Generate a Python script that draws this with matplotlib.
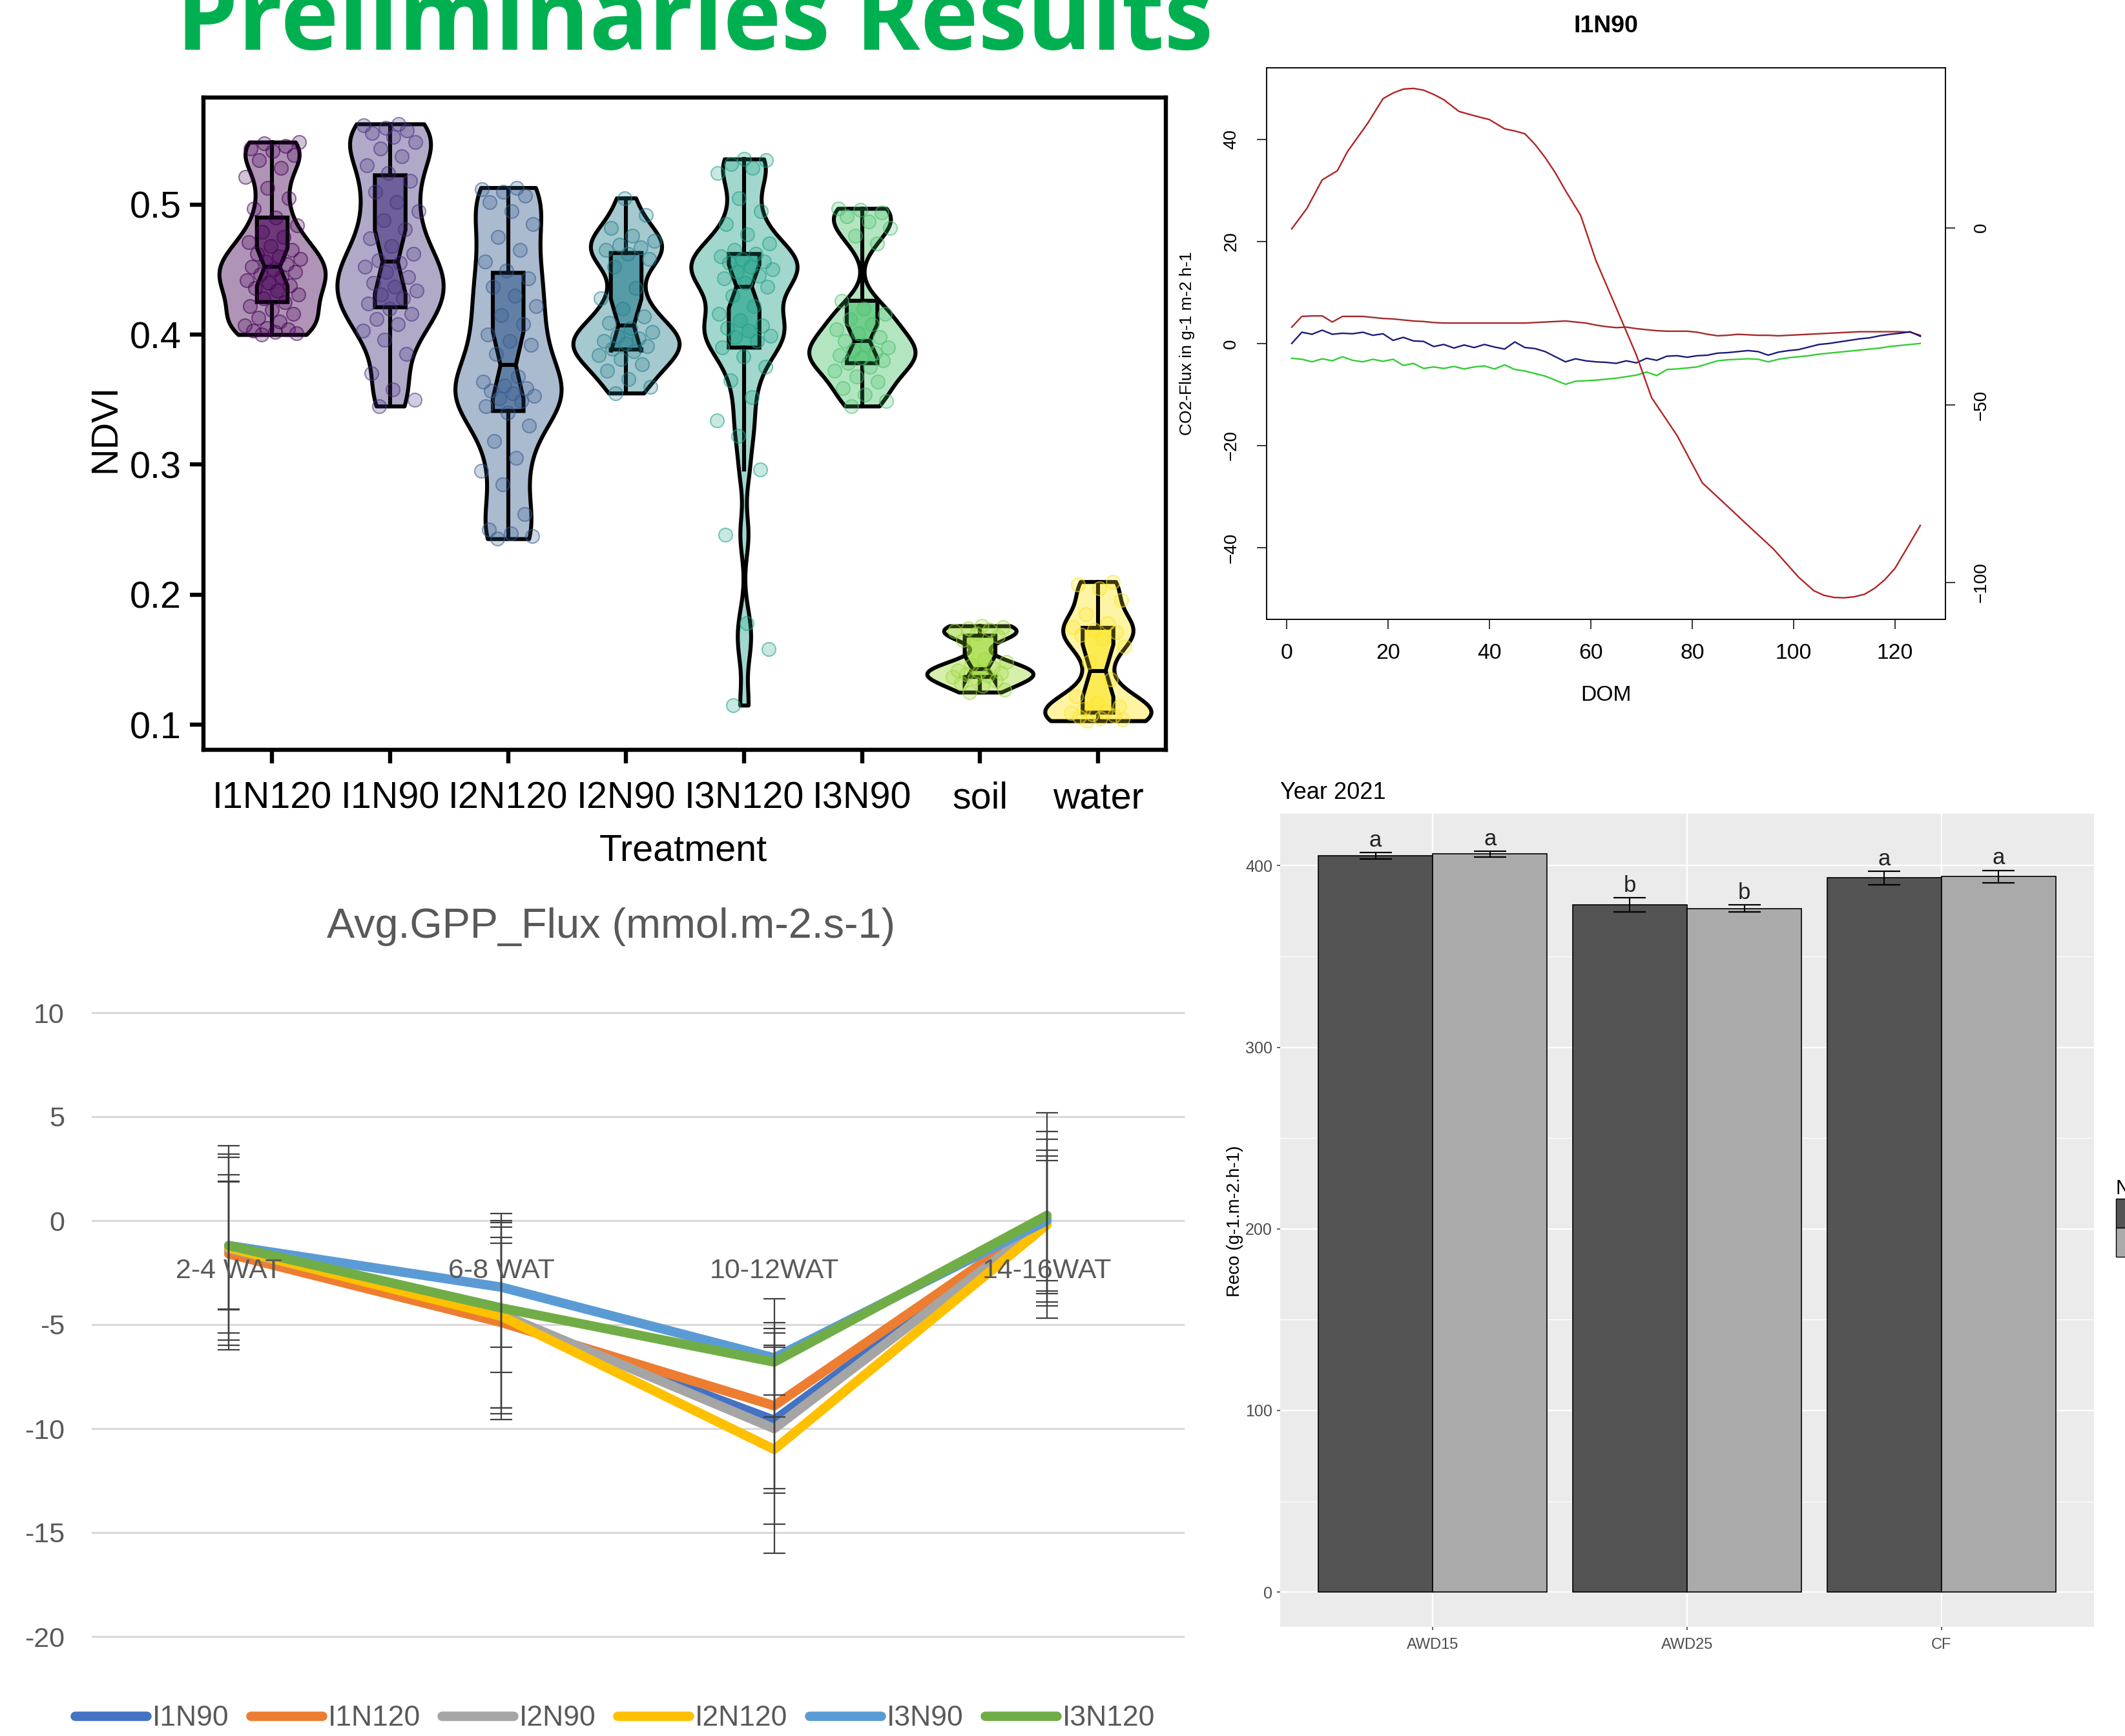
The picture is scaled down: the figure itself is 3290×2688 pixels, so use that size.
import numpy as np
import matplotlib
matplotlib.use("Agg")
import matplotlib.pyplot as plt
from matplotlib import font_manager as fm
from matplotlib.colors import to_rgba
from matplotlib.patches import Patch
from matplotlib.transforms import offset_copy

# ======================= DATA =======================
title_text = "Preliminaries Results"

# ---- Panel A: NDVI violins ----
treatments = ['I1N120', 'I1N90', 'I2N120', 'I2N90', 'I3N120', 'I3N90', 'soil', 'water']
ndvi_I1N120 = [0.400, 0.401, 0.402, 0.403, 0.404, 0.405, 0.407, 0.410, 0.413, 0.416, 0.419, 0.422, 0.425,
               0.428, 0.431, 0.434, 0.436, 0.438, 0.440, 0.442, 0.444, 0.446, 0.448, 0.450, 0.452,
               0.454, 0.456, 0.458, 0.460, 0.462, 0.465, 0.468, 0.471, 0.475, 0.479, 0.484, 0.490,
               0.497, 0.505, 0.513, 0.521, 0.528, 0.534, 0.538, 0.541, 0.543, 0.545, 0.547, 0.548]
ndvi_I1N90 = [0.345, 0.350, 0.358, 0.370, 0.385, 0.396, 0.403, 0.408, 0.412, 0.416, 0.420, 0.424,
              0.428, 0.431, 0.434, 0.437, 0.440, 0.444, 0.448, 0.452, 0.455, 0.457,
              0.462, 0.468, 0.474, 0.481, 0.488, 0.495, 0.502, 0.510, 0.518, 0.524,
              0.530, 0.537, 0.543, 0.548, 0.552, 0.555, 0.557, 0.559, 0.561, 0.562]
ndvi_I2N120 = [0.243, 0.245, 0.247, 0.250, 0.262, 0.285, 0.295, 0.305, 0.318, 0.330, 0.340,
               0.345, 0.349, 0.351, 0.353, 0.355, 0.357, 0.359, 0.361, 0.364, 0.368, 0.385, 0.392,
               0.395, 0.400, 0.408, 0.415, 0.422, 0.430, 0.437, 0.443, 0.449, 0.456, 0.465, 0.475,
               0.485, 0.495, 0.502, 0.507, 0.510, 0.512, 0.513]
ndvi_I2N90 = [0.355, 0.360, 0.366, 0.372, 0.377, 0.381, 0.384, 0.387, 0.389, 0.391, 0.393, 0.395,
              0.397, 0.399, 0.402, 0.405, 0.409, 0.414, 0.420, 0.428, 0.436, 0.452, 0.458, 0.462,
              0.465, 0.467, 0.469, 0.472, 0.476, 0.482, 0.492, 0.505]
ndvi_I3N120 = [0.115, 0.158, 0.178, 0.246, 0.296, 0.322, 0.334, 0.352, 0.365, 0.375, 0.383,
               0.390, 0.395, 0.398, 0.399, 0.403, 0.405, 0.407, 0.411, 0.416, 0.422, 0.430,
               0.437, 0.440, 0.443, 0.445, 0.448, 0.450, 0.452, 0.455, 0.456, 0.458, 0.460,
               0.462, 0.465, 0.470, 0.477, 0.485, 0.495, 0.505, 0.524, 0.528, 0.531, 0.534, 0.535]
ndvi_I3N90 = [0.345, 0.349, 0.354, 0.359, 0.364, 0.368, 0.372, 0.375, 0.378, 0.380, 0.382, 0.384,
              0.386, 0.388, 0.390, 0.392, 0.395, 0.398, 0.401, 0.404, 0.408, 0.412, 0.416, 0.420,
              0.426, 0.470, 0.476, 0.482, 0.487, 0.491, 0.494, 0.496, 0.497]
ndvi_soil = [0.125, 0.127, 0.130, 0.132, 0.134, 0.136, 0.137, 0.138, 0.139, 0.140, 0.141, 0.142,
             0.144, 0.146, 0.148, 0.150, 0.165, 0.168, 0.170, 0.172, 0.173, 0.174, 0.175, 0.176]
ndvi_water = [0.103, 0.104, 0.105, 0.106, 0.107, 0.108, 0.109, 0.110, 0.112, 0.114, 0.117, 0.122,
              0.135, 0.148, 0.160, 0.166, 0.169, 0.171, 0.173, 0.175, 0.178, 0.185, 0.196, 0.205,
              0.208, 0.210]
violin_colors = ['#440154', '#46337E', '#365C8D', '#277F8E', '#1FA187', '#4AC16D', '#9FDA3A', '#FDE725']

# ---- Panel B: CO2 flux, I1N90 ----
dom_small = [1, 3, 5, 7, 9, 11, 13, 15, 17, 19, 21, 23, 25, 27, 29, 31, 33, 35, 37, 39, 41, 43, 45,
             47, 49, 51, 53, 55, 57, 59, 61, 63, 65, 67, 69, 71, 73, 75, 77, 79, 81, 83, 85, 87, 89,
             91, 93, 95, 97, 99, 101, 103, 105, 107, 109, 111, 113, 115, 117, 119, 121, 123, 125]
flux_red = [3.2, 5.3, 5.4, 5.4, 4.2, 5.3, 5.3, 5.3, 5.1, 4.9, 4.8, 4.6, 4.4, 4.3, 4.1, 4.0, 4.0, 4.0,
            4.0, 4.0, 4.0, 4.0, 4.0, 4.0, 4.1, 4.2, 4.3, 4.4, 4.2, 4.0, 3.6, 3.3, 3.1, 3.2, 2.9, 2.7,
            2.5, 2.4, 2.4, 2.4, 2.2, 1.8, 1.5, 1.6, 1.8, 1.7, 1.6, 1.6, 1.5, 1.6, 1.7, 1.8, 1.9, 2.0,
            2.1, 2.2, 2.3, 2.3, 2.3, 2.3, 2.3, 2.2, 1.6]
flux_blue = [0.0, 2.2, 1.8, 2.6, 1.8, 2.0, 1.9, 2.2, 1.6, 1.9, 0.6, 1.2, 0.5, 0.4, -0.6, -0.2, -0.9,
             -0.3, -0.8, -0.2, -0.7, -1.1, 0.3, -0.8, -1.0, -1.6, -2.6, -3.6, -3.0, -3.4, -3.6, -3.7,
             -3.9, -3.4, -3.8, -2.9, -3.3, -2.5, -2.4, -2.7, -2.4, -2.3, -1.9, -1.8, -1.6, -1.4, -1.6,
             -2.3, -1.7, -1.4, -1.2, -0.7, -0.2, 0.0, 0.3, 0.6, 0.9, 1.1, 1.5, 1.8, 2.0, 2.3, 1.4]
flux_green = [-2.9, -3.1, -3.6, -3.0, -3.4, -2.6, -3.3, -3.6, -3.1, -3.5, -3.1, -4.3, -3.9, -4.9,
              -4.6, -4.9, -4.5, -5.0, -4.6, -4.4, -5.0, -4.2, -5.1, -5.4, -5.9, -6.4, -7.2, -8.0,
              -7.4, -7.3, -7.2, -7.0, -6.8, -6.5, -6.2, -5.6, -6.3, -5.1, -5.0, -4.8, -4.6, -4.0,
              -3.4, -3.2, -3.1, -3.0, -3.1, -3.6, -3.1, -2.8, -2.6, -2.4, -2.1, -1.9, -1.7, -1.5,
              -1.3, -1.1, -0.9, -0.6, -0.4, -0.2, 0.0]
dom_cum = [1, 4, 7, 10, 12, 14, 16, 19, 21, 23, 25, 27, 29, 31, 34, 37, 40, 43, 45, 47, 49, 51, 53,
           55, 58, 61, 65, 69, 72, 77, 82, 86, 91, 96, 101, 104, 106, 108, 110, 112, 114, 116, 118,
           120, 122, 125]
flux_cum = [-0.3, 5.5, 13.5, 16.1, 21.5, 25.5, 29.5, 36.4, 38.0, 39.1, 39.3, 38.8, 37.6, 36.1, 32.8,
            31.6, 30.5, 27.9, 27.3, 26.5, 23.5, 19.8, 15.5, 10.5, 3.5, -9.2, -22.5, -35.9, -47.9,
            -58.5, -71.9, -77.2, -83.9, -90.5, -98.5, -102.3, -103.6, -104.2, -104.3, -104.0, -103.3,
            -101.6, -99.2, -96.0, -91.2, -83.9]

# ---- Panel C: Avg GPP flux ----
gpp_weeks = ['2-4 WAT', '6-8 WAT', '10-12WAT', '14-16WAT']
gpp_series = ['I1N90', 'I1N120', 'I2N90', 'I2N120', 'I3N90', 'I3N120']
gpp_I1N90 = [-1.4, -4.7, -9.6, 0.0]
gpp_I1N120 = [-1.6, -4.9, -8.9, 0.1]
gpp_I2N90 = [-1.35, -4.5, -10.0, 0.0]
gpp_I2N120 = [-1.3, -4.6, -11.0, -0.2]
gpp_I3N90 = [-1.2, -3.2, -6.6, 0.0]
gpp_I3N120 = [-1.2, -4.2, -6.8, 0.25]
err_I1N90 = [4.6, 4.6, 3.5, 3.9]
err_I1N120 = [3.8, 4.1, 4.0, 4.2]
err_I2N90 = [4.4, 4.5, 4.6, 3.4]
err_I2N120 = [4.9, 4.95, 5.0, 3.3]
err_I3N90 = [3.05, 2.9, 2.85, 2.9]
err_I3N120 = [3.1, 3.1, 1.6, 4.95]
gpp_colors = ['#4472C4', '#ED7D31', '#A5A5A5', '#FFC000', '#5B9BD5', '#70AD47']

# ---- Panel D: Reco, Year 2021 ----
water_mgmt = ['AWD15', 'AWD25', 'CF']
n_levels = ['N120', 'N90']
reco_dark = [405.4, 378.5, 393.3]
se_dark = [1.75, 3.85, 3.7]
reco_light = [406.4, 376.5, 394.0]
se_light = [1.7, 2.0, 3.5]
letters_dark = ['a', 'b', 'a']
letters_light = ['a', 'b', 'a']

# ======================= STYLE / LAYOUT =======================
W, H, DPI = 3291, 2688, 100
_names = {f.name for f in fm.fontManager.ttflist}
HAS_NARROW = 'Liberation Sans Narrow' in _names


def nfont(size, weight='normal', factor=0.88):
    if HAS_NARROW:
        return dict(fontfamily=['Liberation Sans Narrow', 'DejaVu Sans'], fontsize=size, fontweight=weight)
    return dict(fontfamily=['Liberation Sans', 'DejaVu Sans'], fontsize=size * factor, fontweight=weight)


def rfont(size, weight='normal'):
    return dict(fontfamily=['Liberation Sans', 'DejaVu Sans'], fontsize=size, fontweight=weight)


plt.rcParams['font.family'] = ['Liberation Sans', 'DejaVu Sans']
fig = plt.figure(figsize=(W / DPI, H / DPI), dpi=DPI, facecolor='white')


def rect(l, t, r, b):
    return [l / W, 1 - b / H, (r - l) / W, (b - t) / H]


def fit_width(txt, target_px):
    r = fig.canvas.get_renderer()
    bb = txt.get_window_extent(r)
    txt.set_fontsize(txt.get_fontsize() * target_px / bb.width)


# ---- Title ----
t = fig.text(273 / W, 1 - 77 / H, title_text, color='#00B050', ha='left', va='baseline',
             fontfamily=['Open Sans', 'DejaVu Sans'], fontweight='bold', fontsize=100)
fit_width(t, 1606)

# ---- Panel A ----
ax1 = fig.add_axes(rect(315, 151, 1805, 1161))
groups = [ndvi_I1N120, ndvi_I1N90, ndvi_I2N120, ndvi_I2N90, ndvi_I3N120, ndvi_I3N90, ndvi_soil, ndvi_water]
pos = np.arange(1, len(treatments) + 1)


def nrd0(kde):
    d = np.ravel(kde.dataset)
    sd = np.std(d, ddof=1)
    q75, q25 = np.percentile(d, [75, 25])
    lo = min(sd, (q75 - q25) / 1.34)
    if lo <= 0:
        lo = sd
    return 0.72 * 0.9 * lo * len(d) ** -0.2 / sd


vp = ax1.violinplot(groups, positions=pos, widths=0.9, showextrema=False, bw_method=nrd0, points=500)
for body, c in zip(vp['bodies'], violin_colors):
    body.set_alpha(None)
    body.set_facecolor(to_rgba(c, 0.42))
    body.set_edgecolor('black')
    body.set_linewidth(4.4)
    body.set_zorder(2)

bp = ax1.boxplot(groups, positions=pos, widths=0.26, notch=True, patch_artist=True, whis=1.5,
                 showfliers=False, showcaps=False, manage_ticks=False,
                 medianprops=dict(color='black', linewidth=4.4),
                 whiskerprops=dict(color='black', linewidth=4.4),
                 boxprops=dict(edgecolor='black', linewidth=4.4))
for patch, c in zip(bp['boxes'], violin_colors):
    patch.set_facecolor(to_rgba(c, 0.62))
    patch.set_zorder(3)
for ln in bp['whiskers'] + bp['medians']:
    ln.set_zorder(3)

for i, (g, c) in enumerate(zip(groups, violin_colors)):
    g = np.asarray(g)
    off = ((np.arange(len(g)) * 0.6180339887 + 0.31) % 1.0 - 0.5) * 0.48
    ax1.scatter(pos[i] + off, g, s=230, facecolor=to_rgba(c, 0.24), edgecolor=to_rgba(c, 0.55),
                linewidth=1.5, zorder=4)

ax1.set_xlim(0.417, 8.575)
ax1.set_ylim(0.0807, 0.5823)
ax1.set_xticks(pos)
ax1.set_xticklabels(treatments)
ax1.set_yticks([0.1, 0.2, 0.3, 0.4, 0.5])
ax1.set_yticklabels(['0.1', '0.2', '0.3', '0.4', '0.5'])
for s in ax1.spines.values():
    s.set_linewidth(4.6)
ax1.tick_params(axis='both', direction='out', length=15, width=4.6)
ax1.tick_params(axis='x', pad=20)
ax1.tick_params(axis='y', pad=10)
for tl in ax1.get_xticklabels() + ax1.get_yticklabels():
    tl.set(**nfont(47, factor=0.88))
ax1.text(0.4987, -0.155, 'Treatment', transform=ax1.transAxes, ha='center', va='center', **nfont(47, factor=0.88))
ax1.text(-0.102, 0.493, 'NDVI', transform=ax1.transAxes, ha='center', va='center', rotation=90,
         **nfont(47, factor=0.88))

# ---- Panel B ----
ax2 = fig.add_axes(rect(1961, 105, 3012, 958.6))
ax2.plot(dom_small, flux_red, color='#A52A2A', lw=1.7)
ax2.plot(dom_small, flux_blue, color='#1B1B7A', lw=1.7)
ax2.plot(dom_small, flux_green, color='#33CC33', lw=1.7)
ax2.set_xlim(-3.96, 129.96)
ax2.set_ylim(-54, 54)
ax2r = ax2.twinx()
ax2r.plot(dom_cum, flux_cum, color='#B22222', lw=1.7)
ax2r.set_ylim(-110.3, 45.1)
ax2.set_xticks([0, 20, 40, 60, 80, 100, 120])
ax2.set_yticks([-40, -20, 0, 20, 40])
ax2r.set_yticks([-100, -50, 0])
for a in (ax2, ax2r):
    for s in a.spines.values():
        s.set_linewidth(1.1)
ax2.tick_params(axis='both', direction='out', length=11, width=1.1)
ax2r.tick_params(axis='y', direction='out', length=11, width=1.1, pad=20)
ax2.tick_params(axis='x', pad=16)
ax2.tick_params(axis='y', pad=19)
for tl in ax2.get_xticklabels():
    tl.set(**nfont(26, factor=0.93))
for tl in ax2.get_yticklabels():
    tl.set(rotation=90, va='center', ha='right', **rfont(20))
for tl in ax2r.get_yticklabels():
    tl.set(rotation=90, va='center', ha='left', **rfont(20))
ax2.text(0.5, 1.076, 'I1N90', transform=ax2.transAxes, ha='center', va='center', **nfont(29, 'bold', factor=0.93))
ax2.text(0.5, -0.1387, 'DOM', transform=ax2.transAxes, ha='center', va='center', **nfont(26, factor=0.93))
ax2.text(-0.117, 0.5, 'CO2-Flux in g-1 m-2 h-1', transform=ax2.transAxes, ha='center', va='center',
         rotation=90, **rfont(19))

# ---- Panel C ----
ax3 = fig.add_axes(rect(143, 1568, 1832, 2534))
xc = np.arange(len(gpp_weeks))
gvals = [gpp_I1N90, gpp_I1N120, gpp_I2N90, gpp_I2N120, gpp_I3N90, gpp_I3N120]
gerrs = [err_I1N90, err_I1N120, err_I2N90, err_I2N120, err_I3N90, err_I3N120]
handles = []
for name, v, c in zip(gpp_series, gvals, gpp_colors):
    ln, = ax3.plot(xc, v, color=c, lw=10.5, solid_capstyle='round', solid_joinstyle='round', zorder=3, label=name)
    handles.append(ln)
for v, e in zip(gvals, gerrs):
    ax3.errorbar(xc, v, yerr=e, fmt='none', ecolor='#404040', elinewidth=1.6, capsize=12, capthick=1.6, zorder=4)
ax3.set_xlim(-0.5, 3.5)
ax3.set_ylim(-20, 10)
ax3.set_yticks([-20, -15, -10, -5, 0, 5, 10])
ax3.set_yticklabels(['-20', '-15', '-10', '-5', '0', '5', '10'])
ax3.set_xticks(xc)
ax3.set_xticklabels([])
ax3.grid(axis='y', color='#D9D9D9', lw=2.2)
for gl in ax3.get_ygridlines():
    gl.set_clip_on(False)
ax3.set_axisbelow(True)
for s in ax3.spines.values():
    s.set_visible(False)
ax3.tick_params(axis='both', length=0, colors='#595959')
ax3.tick_params(axis='y', pad=31)
for tl in ax3.get_yticklabels():
    tl.set(color='#595959', **rfont(31))
lab_tr = offset_copy(ax3.transData, fig=fig, x=0, y=-58, units='dots')
for xi, lab in zip(xc, gpp_weeks):
    ax3.text(xi, 0, lab, transform=lab_tr, ha='center', va='top', color='#595959', zorder=6, **rfont(31))
t3 = ax3.text(0.4754, 1.1377, 'Avg.GPP_Flux (mmol.m-2.s-1)', transform=ax3.transAxes, ha='center',
              va='center', color='#595959', **rfont(47))
fit_width(t3, 879)
fig.legend(handles=handles, labels=gpp_series, ncol=6, loc='center', bbox_to_anchor=(952 / W, 1 - 2661 / H),
           frameon=False, prop=dict(family=['Liberation Sans', 'DejaVu Sans'], size=32), labelcolor='#595959',
           handlelength=2.5, handletextpad=0.2, columnspacing=0.75, borderpad=0)

# ---- Panel D ----
ax4 = fig.add_axes(rect(1982, 1259.8, 3242, 2519.4))
ax4.set_facecolor('#EBEBEB')
xb = np.arange(1, len(water_mgmt) + 1)
bw = 0.45
ax4.bar(xb - bw / 2, reco_dark, width=bw, color='#545454', edgecolor='black', linewidth=1.2, zorder=2)
ax4.bar(xb + bw / 2, reco_light, width=bw, color='#AAAAAA', edgecolor='black', linewidth=1.2, zorder=2)
ax4.errorbar(xb - bw / 2, reco_dark, yerr=se_dark, fmt='none', ecolor='black', elinewidth=1.5, capsize=18,
             capthick=1.6, zorder=3)
ax4.errorbar(xb + bw / 2, reco_light, yerr=se_light, fmt='none', ecolor='black', elinewidth=1.5, capsize=18,
             capthick=1.6, zorder=3)
for xi, m, s, l in zip(xb - bw / 2, reco_dark, se_dark, letters_dark):
    ax4.text(xi, m + s + 6.6, l, ha='center', va='center', color='#222222', **rfont(25))
for xi, m, s, l in zip(xb + bw / 2, reco_light, se_light, letters_light):
    ax4.text(xi, m + s + 6.6, l, ha='center', va='center', color='#222222', **rfont(25))
ax4.set_xlim(0.4, 3.6)
ax4.set_ylim(-19.3, 428.7)
ax4.set_yticks([0, 100, 200, 300, 400])
ax4.set_yticks([50, 150, 250, 350], minor=True)
ax4.set_xticks(xb)
ax4.set_xticklabels(water_mgmt)
ax4.grid(which='major', color='white', lw=1.6)
ax4.grid(which='minor', axis='y', color='white', lw=0.8)
ax4.set_axisbelow(True)
for s in ax4.spines.values():
    s.set_visible(False)
ax4.tick_params(axis='both', which='major', length=3.6, width=1.1, color='#333333', labelcolor='#4D4D4D')
ax4.tick_params(axis='y', which='minor', length=0)
ax4.tick_params(axis='x', pad=8)
ax4.tick_params(axis='y', pad=5)
for tl in ax4.get_yticklabels():
    tl.set(**rfont(18))
for tl in ax4.get_xticklabels():
    tl.set(**rfont(17))
ax4.text(0.0, 1.0254, 'Year 2021', transform=ax4.transAxes, ha='left', va='center', **rfont(26))
ax4.text(-0.0556, 0.499, 'Reco (g-1.m-2.h-1)', transform=ax4.transAxes, ha='center', va='center',
         rotation=90, **rfont(20))
fig.legend(handles=[Patch(facecolor='#545454', edgecolor='black'), Patch(facecolor='#AAAAAA', edgecolor='black')],
           labels=n_levels, title='N', loc='upper left', bbox_to_anchor=(3276 / W, 1 - 1826 / H),
           frameon=False, borderpad=0, borderaxespad=0, handlelength=2.0, handleheight=2.0,
           labelspacing=0, alignment='left', prop=dict(family=['Liberation Sans', 'DejaVu Sans'], size=21),
           title_fontproperties=dict(family=['Liberation Sans', 'DejaVu Sans'], size=22))

fig.savefig('out.png', dpi=DPI, facecolor='white')
